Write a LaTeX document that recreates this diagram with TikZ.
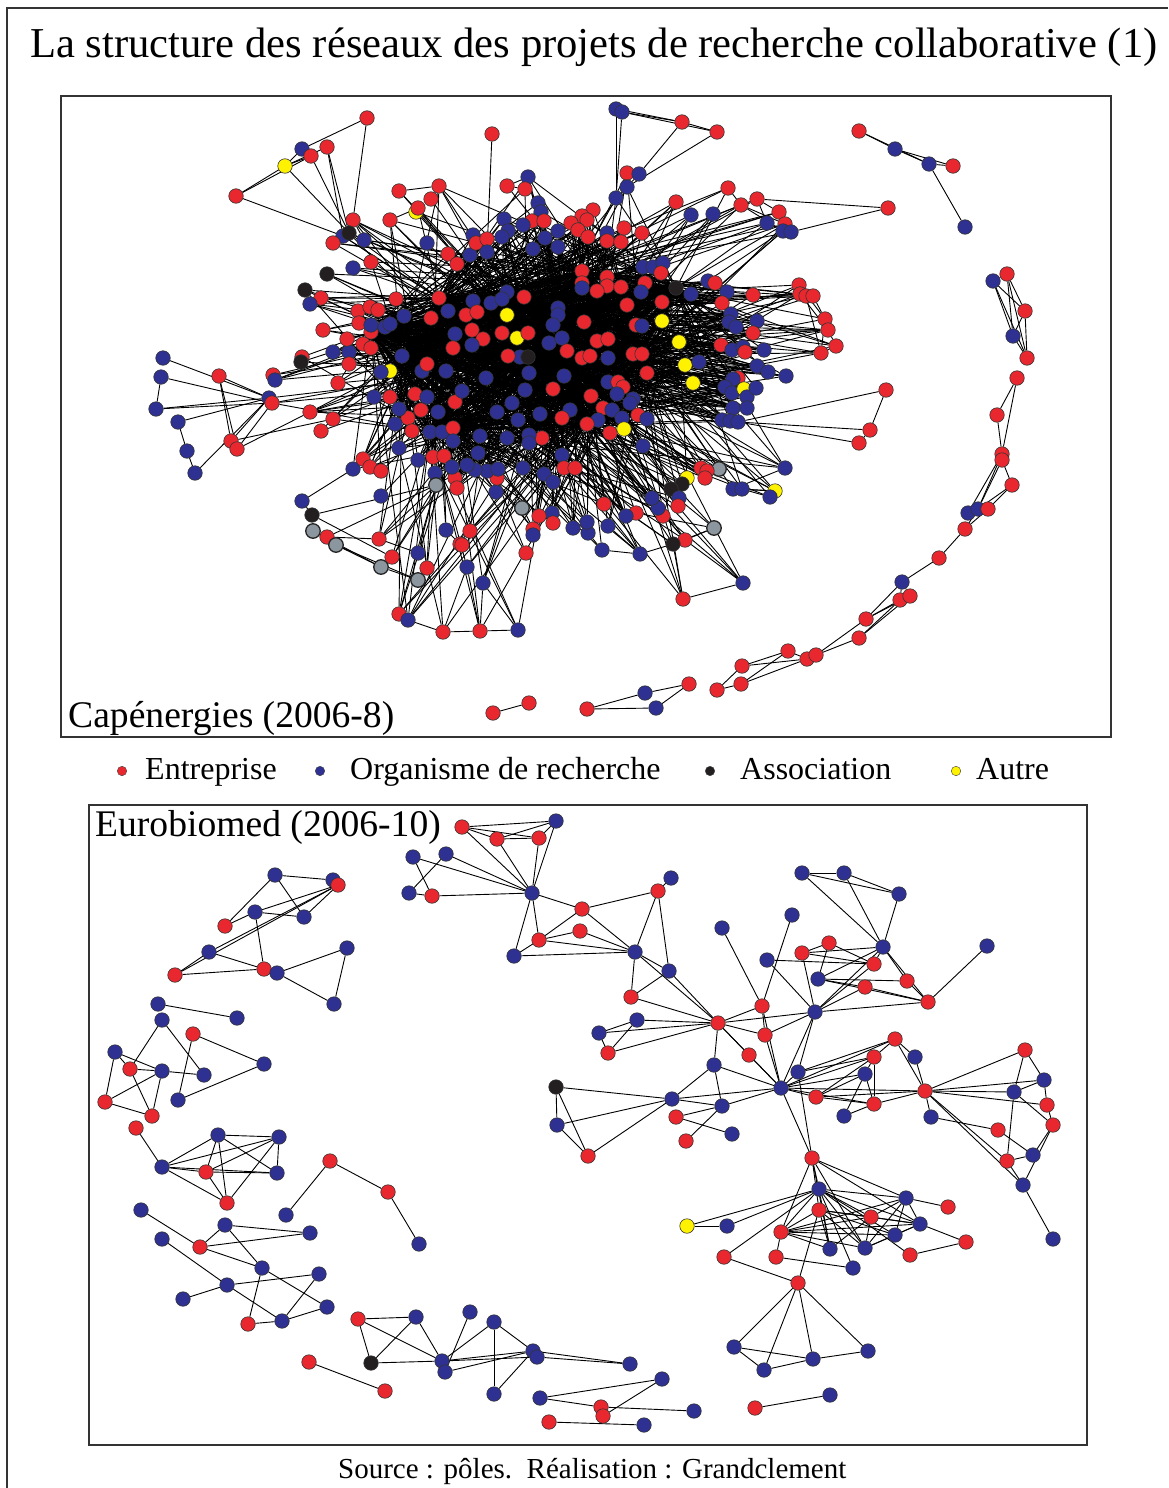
\documentclass[tikz,border=0pt]{standalone}
\usepackage{fontspec}
\setmainfont{Liberation Serif}
\usepackage{tikz}
\usetikzlibrary{backgrounds}
\definecolor{rougeE}{HTML}{E8282E}
\definecolor{bleuO}{HTML}{2E3192}
\definecolor{noirA}{HTML}{231F20}
\definecolor{jauneA}{HTML}{FFF200}
\definecolor{grisN}{HTML}{8C969E}
\definecolor{traitC}{HTML}{333333}

% liens tires au hasard vers les noeuds centraux de Capenergies
\newcommand\reliermoyeux[2]{%
  \foreach \i in {#1}{%
    \foreach \h in {51,28,47,224,246,243,273,345,191,178,287,90,220,40}{%
      \pgfmathsetmacro\tirage{rnd}%
      \ifnum\i=\h\relax\else
        \ifdim\tirage pt<#2pt \draw[lien] (c\i) -- (c\h);\fi
      \fi}}}

\begin{document}
\begin{tikzpicture}[
    x=1pt, y=-1pt,
    noeud/.style={circle, draw=black!80, line width=0.6pt, minimum size=14.5pt, inner sep=0pt},
    ent/.style={noeud, fill=rougeE},
    org/.style={noeud, fill=bleuO},
    asso/.style={noeud, fill=noirA},
    autre/.style={noeud, fill=jauneA},
    gris/.style={noeud, fill=grisN, draw=black!85, line width=1.3pt},
    puce/.style={circle, draw=black!75, line width=0.4pt, minimum size=9.5pt, inner sep=0pt},
    lien/.style={line width=0.9pt, black},
    cadre/.style={draw=traitC, line width=1.3pt},
    legende/.style={anchor=base west, inner sep=0pt, font=\fontsize{32}{36}\selectfont}
  ]
  \useasboundingbox (0,0) rectangle (1168,1488);

  % cadres
  \draw[traitC, line width=1.6pt] (7,1488) -- (7,8) -- (1168,8);
  \draw[cadre] (61,96) rectangle (1111,737);
  \draw[cadre] (89,805) rectangle (1087,1445);

  \node[anchor=base west, inner sep=0pt, font=\fontsize{42.6}{48}\selectfont] (titre) at (30,58)
    {La structure des réseaux des projets de recherche collaborative (1)};

  %% Capenergies
  \foreach \i/\t/\x/\y in {1/ent/367/118, 2/org/302/149, 3/ent/327/147, 4/ent/311/156, 5/autre/285/166,
      6/ent/236/196, 7/ent/353/220, 8/org/343/236, 9/asso/349/233, 10/org/364/240, 11/ent/333/243,
      12/ent/399/191, 13/ent/439/186, 14/ent/431/199, 15/autre/416/212, 16/ent/418/208, 17/ent/390/220,
      18/org/427/243, 19/ent/448/254, 20/ent/457/264, 21/org/353/268, 22/ent/371/262, 23/asso/327/274,
      24/asso/305/290, 25/ent/321/298, 26/org/310/304, 27/ent/396/299, 28/ent/439/298, 29/ent/323/330,
      30/ent/302/357, 31/asso/301/362, 32/org/333/352, 33/org/349/352, 34/ent/349/364, 35/ent/347/339,
      36/ent/358/311, 37/ent/370/307, 38/ent/378/310, 39/ent/359/323, 40/ent/371/332, 41/ent/363/344,
      42/ent/371/348, 43/org/371/325, 44/org/385/327, 45/org/390/324, 46/org/404/316, 47/ent/431/318,
      48/org/448/311, 49/org/455/334, 50/ent/453/348, 51/org/402/356, 52/autre/390/371, 53/org/381/372,
      54/org/422/371, 55/org/446/371, 56/ent/427/364, 57/ent/338/383,
      58/org/163/358, 59/org/161/377, 60/org/156/409, 61/org/178/422, 62/ent/219/376, 63/ent/273/375,
      64/org/275/380, 65/org/269/398, 66/ent/272/403, 67/org/187/451, 68/org/195/473, 69/ent/231/441,
      70/ent/237/449, 71/ent/310/412, 72/ent/333/419, 73/ent/321/431,
      74/org/374/397, 75/ent/390/397, 76/ent/415/394, 77/ent/408/418, 78/org/399/409, 79/ent/421/410,
      80/org/427/397, 81/org/438/412, 82/ent/455/402, 83/org/395/424, 84/ent/412/431, 85/org/399/448,
      86/org/418/460, 87/org/435/473, 88/ent/433/457, 89/ent/444/456, 90/org/430/432, 91/org/442/432,
      92/ent/453/428, 93/org/453/441, 94/ent/455/478, 95/ent/457/488,
      96/org/353/469, 97/ent/363/459, 98/ent/370/467, 99/ent/381/471, 100/org/381/496, 101/org/302/501,
      102/asso/312/515, 103/gris/313/531, 104/ent/327/537, 105/gris/336/545, 106/gris/381/567,
      107/gris/418/580, 108/ent/392/557, 109/ent/379/539, 110/org/418/553, 111/ent/427/568,
      112/gris/436/485, 113/org/446/530, 114/ent/460/544, 115/ent/399/614, 116/org/408/620,
      117/ent/443/632, 118/ent/480/631, 119/org/518/630, 120/org/467/567, 121/org/483/583,
      122/ent/470/531, 123/ent/462/545,
      125/org/616/109, 126/org/622/112, 127/ent/682/122, 128/ent/717/132, 129/ent/492/134,
      130/ent/627/173, 131/org/639/174, 132/org/627/187, 133/org/616/198, 134/org/528/177,
      135/ent/507/186, 136/ent/525/189, 138/ent/728/188, 139/ent/757/199, 140/ent/741/205,
      141/ent/779/212, 142/ent/785/224, 143/org/767/223, 144/org/783/231, 145/org/791/232,
      146/ent/888/208, 147/ent/676/202, 148/org/691/215, 149/org/713/214,
      150/org/538/203, 151/org/541/212, 152/ent/593/210, 153/ent/582/216, 154/ent/587/220,
      155/org/504/219, 156/ent/532/221, 157/ent/544/221, 158/org/523/225, 159/ent/571/223,
      160/ent/578/230, 161/ent/588/237, 162/org/558/231, 163/org/607/233, 164/ent/624/228,
      165/ent/642/233, 166/org/508/231, 167/org/502/237, 168/org/545/238, 169/ent/607/241,
      170/ent/621/242, 171/org/558/247, 172/org/473/235, 173/org/470/255, 174/ent/476/243,
      175/ent/487/239, 176/org/487/252, 177/org/533/249, 178/ent/582/271, 179/ent/582/283,
      180/org/582/288, 181/ent/607/277, 182/ent/607/286, 183/ent/621/287, 184/ent/597/291,
      185/org/643/267, 186/org/653/267, 187/org/663/263, 188/ent/661/273, 189/ent/645/283,
      190/org/641/292, 191/asso/676/288, 192/org/691/294, 193/org/708/281, 194/ent/715/283,
      195/org/727/292, 196/ent/753/295, 197/ent/722/303, 198/ent/799/285, 199/ent/800/294,
      200/ent/806/296, 201/ent/813/296, 202/ent/825/319, 203/ent/828/330, 204/ent/836/346,
      205/ent/821/353, 206/org/731/314, 207/org/729/322, 208/org/736/327, 209/org/757/321,
      210/ent/753/333, 211/ent/662/302, 212/ent/627/305, 213/autre/662/321, 214/autre/507/315,
      215/autre/517/338, 216/ent/524/297, 217/ent/528/333, 218/org/507/292, 219/org/491/303,
      220/org/502/299, 221/org/473/301, 222/ent/466/315, 223/ent/477/312, 224/org/558/308,
      225/org/558/315, 226/org/553/325, 227/ent/584/322, 228/ent/636/325, 229/org/642/326,
      230/ent/472/330, 231/ent/483/339, 232/ent/502/333, 233/org/472/345, 234/org/549/343,
      235/org/562/338, 236/ent/597/341, 237/ent/608/339, 238/ent/567/351, 239/ent/582/358,
      240/ent/590/356, 241/org/608/358, 242/ent/633/354, 243/ent/642/354, 244/org/520/357,
      245/ent/508/356, 246/asso/528/357, 247/autre/679/342, 248/autre/685/365, 249/autre/693/383,
      250/org/699/362, 251/ent/721/345, 252/org/732/350, 253/org/743/347, 254/ent/745/352,
      255/org/764/350, 256/org/757/366, 257/org/768/372, 258/org/786/376, 259/ent/738/378,
      260/org/733/379, 261/org/725/387, 262/org/732/393, 263/autre/744/389, 264/org/747/397,
      265/org/756/388, 266/org/733/408, 267/org/747/408, 268/org/722/420, 269/org/730/421,
      270/org/738/422, 271/ent/886/390, 272/org/529/373, 273/org/564/376, 274/org/486/378,
      275/org/497/412, 276/org/462/391, 277/org/512/403, 278/org/525/390, 279/ent/553/389,
      280/org/608/382, 281/ent/618/382, 282/ent/623/387, 283/org/617/394, 284/ent/647/373,
      285/org/633/399, 286/org/630/403, 287/ent/591/396, 288/org/570/410, 289/org/518/420,
      290/org/540/414, 291/ent/603/408, 292/org/612/410, 293/org/622/418, 294/ent/638/415,
      295/org/647/419, 296/ent/562/418, 297/org/598/420,
      298/ent/870/430, 299/ent/859/443, 300/org/785/468, 301/autre/775/491, 302/org/770/497,
      303/org/733/489, 304/org/742/489, 305/gris/719/469, 306/ent/701/468, 307/ent/707/471,
      308/ent/705/478, 309/autre/687/478, 310/asso/682/484, 311/asso/671/489, 312/org/679/498,
      313/ent/678/506, 314/ent/663/516, 315/org/658/508, 316/org/652/498, 317/gris/714/528,
      318/ent/685/540, 319/asso/673/544, 320/org/640/554, 321/org/602/550, 322/org/608/526,
      323/org/588/533, 324/org/587/522, 325/org/573/528, 326/ent/636/513, 327/org/626/516,
      328/ent/604/504, 329/org/552/513, 330/ent/553/523, 331/ent/539/516, 332/ent/533/529,
      333/org/533/535, 334/ent/526/553, 335/gris/522/508, 336/org/496/492, 337/ent/497/478,
      338/org/487/471, 339/org/475/470, 340/org/467/465, 341/org/452/467, 342/org/743/583,
      343/ent/683/599,
      345/ent/587/424, 346/ent/610/433, 347/autre/624/429, 348/org/643/446, 349/org/562/455,
      350/ent/564/468, 351/ent/575/468, 352/org/544/474, 353/org/553/482, 354/org/523/468,
      355/ent/542/438, 356/org/529/435, 357/org/529/443, 358/org/507/438, 359/org/480/436,
      360/org/478/453, 361/org/498/469,
      362/ent/859/131, 363/org/895/149, 364/org/929/164, 365/ent/953/166, 366/org/965/227,
      367/org/993/281, 368/ent/1007/274, 369/ent/1025/311, 370/org/1013/336, 371/ent/1027/358,
      372/ent/1017/378, 373/ent/997/415, 374/ent/1002/454, 375/ent/1002/460, 376/ent/1012/485,
      377/org/968/513, 378/org/978/509, 379/ent/988/509, 380/ent/965/529, 381/ent/939/558,
      382/org/902/582, 383/ent/900/600, 384/ent/910/596, 385/ent/866/619, 386/ent/859/638,
      387/ent/807/659, 388/ent/816/655, 389/ent/788/651, 390/ent/742/666, 391/ent/741/684,
      392/ent/717/690, 393/ent/689/684, 394/org/645/693, 395/org/656/708, 396/ent/587/709,
      397/ent/493/713, 398/ent/529/703}
    \node[style=\t] (c\i) at (\x,\y) {};

  \begin{scope}[on background layer]
    \pgfmathsetseed{12}
    \reliermoyeux{36,...,57}{0.45}
    \reliermoyeux{74,...,95}{0.45}
    \reliermoyeux{150,...,197}{0.45}
    \reliermoyeux{206,...,270}{0.45}
    \reliermoyeux{272,...,297}{0.45}
    \reliermoyeux{345,...,361}{0.45}
    \reliermoyeux{7,...,27}{0.25}
    \reliermoyeux{29,...,35}{0.25}
    \reliermoyeux{63,...,66}{0.25}
    \reliermoyeux{71,...,73}{0.25}
    \reliermoyeux{96,...,100}{0.25}
    \reliermoyeux{108,...,123}{0.2}
    \reliermoyeux{130,...,136}{0.2}
    \reliermoyeux{138,...,145}{0.2}
    \reliermoyeux{147,...,149}{0.25}
    \reliermoyeux{198,...,205}{0.3}
    \reliermoyeux{300,...,343}{0.25}
    \foreach \a/\b in {1/2, 1/7, 2/5, 3/5, 4/5, 4/6, 5/6, 6/8, 5/9, 4/9, 3/9, 3/8, 7/8, 7/10, 2/4,
        12/13, 16/17, 14/13,
        58/65, 59/66, 59/60, 60/65, 60/66, 61/65, 62/65, 62/69, 62/70, 61/67, 67/68, 68/65, 69/65,
        70/66, 70/71, 69/72,
        101/96, 101/102, 102/112, 102/108, 103/105, 104/112, 105/106, 105/107, 106/107, 103/106,
        108/112, 109/112, 110/112, 111/112, 109/110, 104/109, 115/116, 116/117, 117/118, 118/119,
        115/112, 117/120, 118/121, 118/120, 119/121, 122/123, 113/114,
        342/343, 343/319, 342/318, 318/317, 319/317, 320/319, 321/320, 320/322, 321/323, 311/314,
        310/312, 312/313, 317/326, 305/306,
        271/270, 298/270, 299/270, 271/298, 298/299, 300/266, 300/303, 301/303, 302/304, 301/304,
        146/139, 146/145, 139/140, 139/141, 140/142, 141/142, 139/143, 140/144, 138/140,
        125/126, 125/127, 126/127, 127/128, 126/128, 125/133, 126/133, 127/131, 128/132, 130/131,
        131/132, 132/133, 129/176, 134/135, 135/136,
        198/199, 199/200, 200/201, 198/202, 201/202, 202/203, 203/204, 204/205, 199/203, 200/205,
        202/205,
        362/363, 362/364, 363/364, 363/365, 364/365, 364/366,
        367/368, 367/369, 367/370, 367/371, 368/369, 368/370, 368/371, 369/370, 369/371, 370/371,
        372/373, 372/374, 373/374, 375/376, 374/377, 374/378, 375/378, 376/378, 376/379, 380/378,
        380/379, 381/380, 382/381, 383/382, 384/382, 385/383, 385/384, 386/383, 386/384, 385/382,
        385/388, 386/388, 387/389, 389/390, 389/391, 387/390, 387/391, 390/392, 391/392, 388/387,
        393/394, 393/395, 394/396, 395/396, 397/398}
      \draw[lien] (c\a) -- (c\b);
  \end{scope}

  \node[anchor=base west, inner sep=0pt, font=\fontsize{37.6}{42}\selectfont] (capen) at (68,727)
    {Capénergies (2006-8)};

  %% legende
  \node[puce, fill=rougeE] (pent) at (122,771) {};
  \node[legende] (tent) at (145,779) {Entreprise};
  \node[puce, fill=bleuO] (porg) at (320,771) {};
  \node[legende] (torg) at (350,779) {Organisme de recherche};
  \node[puce, fill=noirA] (passo) at (710,771) {};
  \node[legende] (tasso) at (740,779) {Association};
  \node[puce, fill=jauneA] (paut) at (956,771) {};
  \node[legende] (taut) at (976,779) {Autre};

  %% Eurobiomed
  \foreach \i/\t/\x/\y in {1/ent/462/827, 2/org/556/821, 3/ent/497/839, 4/ent/539/838, 5/org/413/857,
      6/org/446/854, 7/org/409/893, 8/ent/432/896, 9/org/532/893, 10/ent/582/909, 11/ent/580/931,
      12/ent/539/940, 13/org/514/956, 14/org/275/875, 15/org/333/880, 16/ent/338/885, 17/org/255/912,
      18/org/304/917, 19/ent/225/926, 20/org/209/952, 21/ent/175/975, 22/ent/264/969, 23/org/277/973,
      24/org/347/948, 25/org/334/1004, 26/org/158/1004, 27/org/237/1018, 28/org/162/1020,
      29/ent/193/1034, 30/org/264/1064, 31/org/115/1052, 32/ent/130/1069, 33/org/162/1071,
      34/org/204/1075, 35/org/178/1100, 36/ent/105/1102, 37/ent/152/1116, 38/ent/136/1128,
      39/asso/556/1087, 40/org/557/1125, 41/ent/588/1156, 42/org/671/878, 43/ent/658/891,
      44/org/635/952, 45/org/669/971, 46/ent/631/997, 47/org/637/1020, 48/org/599/1033,
      49/ent/608/1053, 50/ent/718/1023, 51/ent/762/1006, 52/ent/765/1035, 53/ent/749/1055,
      54/org/722/928, 55/org/792/915, 56/org/802/873, 57/org/844/873, 58/org/899/894, 59/org/883/947,
      60/org/987/946, 61/ent/829/943, 62/ent/802/953, 63/org/767/960, 64/ent/874/964, 65/org/818/979,
      66/ent/907/981, 67/ent/865/987, 68/ent/928/1002, 69/org/815/1012, 70/org/714/1065,
      71/org/798/1072, 72/org/781/1088, 73/org/672/1099, 74/org/722/1106, 75/ent/676/1117,
      76/ent/895/1039, 77/org/915/1057, 78/ent/874/1057, 79/org/865/1074, 80/ent/816/1097,
      81/ent/874/1104, 82/org/844/1116, 83/ent/925/1091, 84/org/931/1117, 85/ent/1025/1050,
      86/org/1044/1080, 87/org/1014/1092, 88/ent/1047/1105, 89/ent/1053/1125, 90/ent/998/1130,
      91/org/1033/1155, 92/ent/1007/1161, 93/org/1023/1185, 94/org/1053/1239, 95/ent/686/1141,
      96/org/732/1134, 97/ent/812/1158, 98/org/819/1189, 99/ent/819/1210, 100/org/906/1198,
      101/ent/948/1207, 102/ent/871/1217, 103/org/920/1224, 104/org/895/1235, 105/ent/966/1242,
      106/ent/910/1255, 107/org/865/1248, 108/org/830/1249, 109/ent/781/1232, 110/autre/687/1226,
      111/org/727/1226, 112/ent/724/1257, 113/ent/776/1257, 114/org/853/1268, 115/ent/798/1283,
      116/org/734/1347, 117/org/764/1370, 118/org/813/1359, 119/org/868/1351, 120/org/218/1135,
      121/org/279/1137, 122/ent/206/1172, 123/org/277/1173, 124/ent/227/1203, 125/org/162/1167,
      126/ent/330/1161, 127/ent/388/1192, 128/org/286/1215, 129/org/419/1244, 130/org/141/1210,
      131/org/162/1239, 132/org/225/1225, 133/org/310/1233, 134/ent/200/1247, 135/org/262/1268,
      136/org/319/1274, 137/org/227/1285, 138/org/183/1299, 139/org/327/1307, 140/org/282/1321,
      141/ent/248/1324, 142/ent/358/1319, 143/org/416/1317, 144/org/470/1312, 145/org/494/1322,
      146/asso/371/1363, 147/org/442/1361, 148/org/445/1372, 149/org/533/1351, 150/org/537/1357,
      151/org/494/1394, 152/ent/309/1362, 153/ent/385/1391, 154/org/630/1364, 155/org/662/1379,
      156/org/540/1398, 157/ent/601/1407, 158/ent/603/1416, 159/org/694/1411, 160/ent/549/1422,
      161/org/644/1425, 162/ent/755/1408, 163/org/830/1395}
    \node[style=\t] (e\i) at (\x,\y) {};

  \begin{scope}[on background layer]
    \foreach \a/\b in {1/2, 1/3, 1/4, 3/4, 2/3, 2/4, 1/9, 3/9, 4/9, 2/9, 5/8, 6/7, 5/9, 6/9, 8/9, 7/8,
        9/10, 9/12, 9/13, 12/13, 10/12, 13/44, 12/44, 11/12,
        14/15, 14/18, 14/19, 16/18, 16/17, 16/20, 16/21, 17/19, 17/18, 17/22, 20/21, 20/22, 21/22,
        23/24, 23/25, 24/25, 26/27, 28/32, 28/34, 31/33, 31/36, 31/32, 32/33, 32/37, 33/36, 33/37,
        36/37, 29/35, 29/30, 35/30, 33/34,
        42/43, 43/10, 43/44, 43/45, 10/44, 11/44, 44/45, 44/46, 45/46, 44/50, 45/50, 46/50,
        47/48, 47/49, 48/49, 47/50, 48/50, 49/50,
        54/51, 55/51, 51/50, 51/52, 50/52, 50/69, 50/70, 50/72, 50/53, 52/72, 53/72, 51/72, 70/72,
        70/73, 70/74, 69/72, 69/71, 69/52, 63/69, 63/64, 62/61, 62/64, 62/69, 61/64, 61/65,
        56/57, 56/58, 57/58, 56/59, 57/59, 58/59, 59/64, 59/65, 59/66, 59/68, 59/69, 59/62,
        65/66, 65/67, 65/68, 66/68, 67/68, 69/67, 69/68, 69/64, 60/68,
        71/72, 72/74, 72/73, 72/76, 72/78, 72/79, 72/80, 72/81, 72/83, 71/76, 71/78,
        73/39, 73/40, 73/74, 73/41, 75/74, 39/40, 39/41, 40/41, 75/96, 95/74,
        76/77, 76/78, 76/83, 77/83, 78/79, 78/80, 78/81, 79/80, 79/81, 79/82, 80/81, 81/82, 81/83,
        80/83, 83/84, 83/85, 83/86, 83/87, 83/88, 83/92, 83/93, 85/86, 85/87, 86/87, 86/88, 87/89,
        87/92, 88/89, 89/91, 89/93, 91/92, 92/93, 93/94, 84/90, 90/91,
        71/97, 72/97, 97/98, 97/99, 97/100, 97/103, 97/109, 97/108, 97/107, 98/100, 98/103, 98/102,
        98/109, 98/111, 98/110, 98/112, 98/107, 98/108, 98/104, 98/106, 98/114, 99/103, 99/109,
        99/108, 99/104, 99/107, 99/102, 99/115, 100/101, 100/103, 100/109, 100/107, 100/104,
        100/102, 102/109, 102/103, 102/108, 102/107, 103/109, 103/105, 103/104, 103/107, 104/107,
        104/109, 105/106, 109/107, 109/108, 109/113, 110/111, 112/115, 113/114,
        115/116, 115/117, 115/118, 115/119, 116/117, 116/118, 117/118, 118/119,
        38/125, 125/120, 125/121, 125/122, 125/123, 125/124, 120/121, 120/122, 120/123, 120/124,
        121/122, 121/123, 121/124, 122/123, 122/124,
        126/128, 126/127, 127/129,
        130/134, 131/137, 137/136, 137/138, 137/140, 135/139, 132/134, 132/135, 132/133, 134/133,
        134/135, 135/141, 136/140, 140/139, 140/141,
        142/143, 142/146, 142/147, 143/146, 143/147, 146/147, 144/148, 145/147, 145/149, 145/151,
        147/149, 147/150, 149/151, 150/154, 148/149, 149/154,
        152/153, 156/155, 156/157, 158/155, 157/159, 160/161, 162/163}
      \draw[lien] (e\a) -- (e\b);
  \end{scope}

  \node[anchor=base west, inner sep=0pt, font=\fontsize{37.6}{42}\selectfont] (eurob) at (95,836)
    {Eurobiomed (2006-10)};

  \node[anchor=base west, inner sep=0pt, font=\fontsize{29}{33}\selectfont] (source) at (338,1478)
    {Source : pôles.\ \ Réalisation : Grandclement};
\end{tikzpicture}
\end{document}
